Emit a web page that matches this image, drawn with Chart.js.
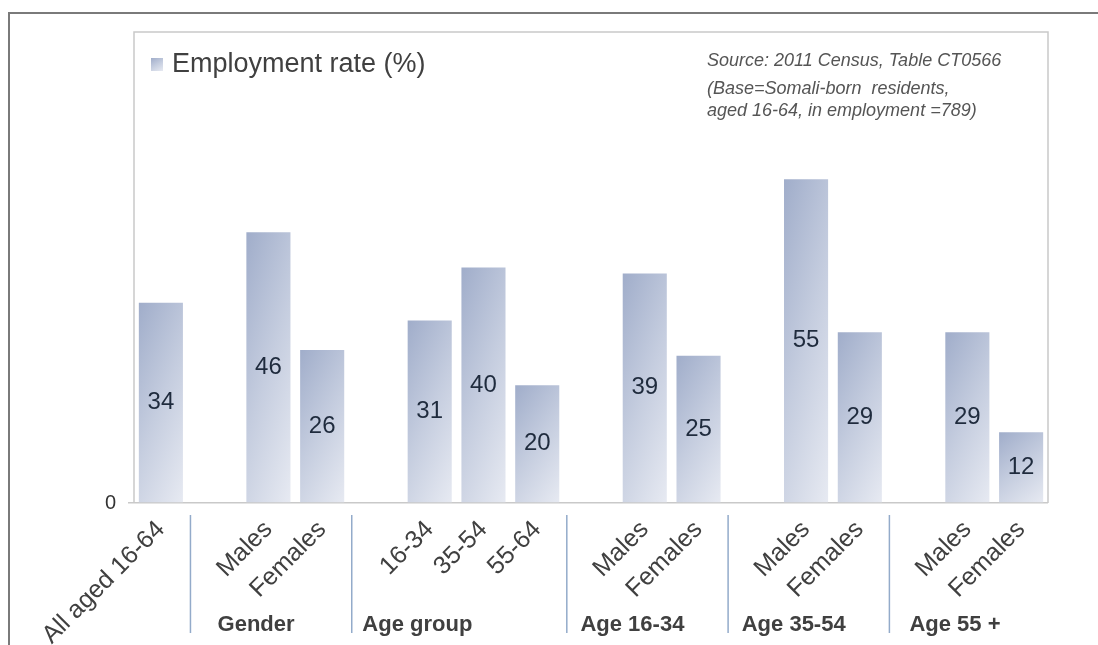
<!DOCTYPE html>
<html>
<head>
<meta charset="utf-8">
<script src="https://cdn.jsdelivr.net/npm/chart.js@4"></script>
<style>
    body { margin: 0; background: #ffffff; }
    #chartBox { width: 1098px; height: 645px; }
</style>
</head>
<body>
<div id="chartBox"><canvas id="employmentChart" width="1098" height="645"></canvas></div>
<script>
// empty labels are the gaps between groups
const categories = ["All aged 16-64", "", "Males", "Females", "", "16-34", "35-54", "55-64", "", "Males", "Females", "", "Males", "Females", "", "Males", "Females"];
const employmentRate = [34, null, 46, 26, null, 31, 40, 20, null, 39, 25, null, 55, 29, null, 29, 12];
const groupNames = ["Gender", "Age group", "Age 16-34", "Age 35-54", "Age 55 +"];
const groupGapIndex = [1, 4, 8, 11, 14];
const yTicks = [0];
const seriesName = "Employment rate (%)";
const sourceLines = ["Source: 2011 Census, Table CT0566", "(Base=Somali-born  residents,", "aged 16-64, in employment =789)"];

const FONT = "'Liberation Sans', Arial, sans-serif";
const DARK = '#404040';

//Gradient running from darker top-left to light bottom-right of a box
function boxGradient(ctx, x0, y0, w, h) {
    let a = 0.35 / w;
    let b = 0.65 / h;
    let n = a * a + b * b;
    let g = ctx.createLinearGradient(x0, y0, x0 + a / n, y0 + b / n);
    g.addColorStop(0, '#a0adca');
    g.addColorStop(0.5, '#c5cddf');
    g.addColorStop(1, '#e7eaf2');
    return g;
}

function barColor(context) {
    let chart = context.chart;
    let xs = chart.scales.x;
    let ys = chart.scales.y;
    if (!xs || !ys || context.raw == null)
        return '#bcc5da';
    let slot = xs.width / categories.length;
    let w = slot * 0.82;
    let cx = xs.getPixelForValue(context.dataIndex);
    let top = ys.getPixelForValue(context.raw);
    let base = ys.getPixelForValue(0);
    if (![slot, cx, top, base].every(Number.isFinite) || w <= 0 || base - top <= 0)
        return '#bcc5da';
    return boxGradient(chart.ctx, cx - w / 2, top, w, base - top);
}

//Frame, plot box, legend and source note
const decorations = {
    id: 'decorations',
    beforeDraw(chart) {
        let ctx = chart.ctx;
        ctx.save();
        ctx.fillStyle = '#ffffff';
        ctx.fillRect(0, 0, chart.width, chart.height);
        ctx.strokeStyle = '#7a7a7a';
        ctx.lineWidth = 2;
        ctx.beginPath();
        ctx.moveTo(9, chart.height);
        ctx.lineTo(9, 13);
        ctx.lineTo(chart.width, 13);
        ctx.stroke();
        ctx.restore();
    },
    afterDraw(chart) {
        let ctx = chart.ctx;
        let area = chart.chartArea;
        ctx.save();
        ctx.strokeStyle = '#c9c9c9';
        ctx.lineWidth = 1.5;
        ctx.beginPath();
        ctx.moveTo(area.left, area.bottom);
        ctx.lineTo(area.left, area.top);
        ctx.lineTo(area.right, area.top);
        ctx.lineTo(area.right, area.bottom);
        ctx.stroke();

        // legend
        ctx.fillStyle = boxGradient(ctx, area.left + 17, area.top + 26, 12, 13);
        ctx.fillRect(area.left + 17, area.top + 26, 12, 13);
        ctx.fillStyle = DARK;
        ctx.font = '27px ' + FONT;
        ctx.textBaseline = 'middle';
        ctx.fillText(seriesName, area.left + 38, area.top + 33);

        // source note
        ctx.fillStyle = '#555555';
        ctx.font = 'italic 18px ' + FONT;
        ctx.textBaseline = 'alphabetic';
        let yPos = [66, 94, 116];
        sourceLines.forEach((line, i) => ctx.fillText(line, 707, yPos[i]));

        // group separators and names under the axis
        let xs = chart.scales.x;
        let slot = xs.width / categories.length;
        ctx.strokeStyle = '#93abca';
        ctx.lineWidth = 1.5;
        ctx.fillStyle = DARK;
        ctx.font = 'bold 22px ' + FONT;
        ctx.textAlign = 'center';
        groupGapIndex.forEach((idx, i) => {
            let sx = xs.getPixelForValue(idx) - 0.45 * slot;
            ctx.beginPath();
            ctx.moveTo(sx, area.bottom + 12);
            ctx.lineTo(sx, area.bottom + 130);
            ctx.stroke();
            ctx.fillText(groupNames[i], sx + 1.22 * slot, area.bottom + 128);
        });
        ctx.restore();
    }
};

//Value written in the middle of each bar
const barValues = {
    id: 'barValues',
    afterDatasetsDraw(chart) {
        let ctx = chart.ctx;
        let meta = chart.getDatasetMeta(0);
        ctx.save();
        ctx.fillStyle = '#1f2b3d';
        ctx.font = '24px ' + FONT;
        ctx.textAlign = 'center';
        ctx.textBaseline = 'middle';
        meta.data.forEach((bar, i) => {
            let v = employmentRate[i];
            if (v == null)
                return;
            ctx.fillText(String(v), bar.x, (bar.y + bar.base) / 2);
        });
        ctx.restore();
    }
};

new Chart("employmentChart", {
    type: 'bar',
    data: {
        labels: categories,
        datasets: [{
            label: seriesName,
            data: employmentRate,
            backgroundColor: barColor,
            barPercentage: 0.82,
            categoryPercentage: 1.0
        }]
    },
    options: {
        responsive: false,
        animation: false,
        layout: { padding: { top: 32, right: 50, left: 0, bottom: 0 } },
        plugins: {
            legend: { display: false },
            tooltip: { enabled: false }
        },
        scales: {
            x: {
                grid: { display: false },
                border: { display: false },
                ticks: {
                    autoSkip: false,
                    minRotation: 45,
                    maxRotation: 45,
                    padding: 4,
                    color: DARK,
                    font: { family: FONT, size: 25 }
                },
                afterFit: s => { s.height = 142; }
            },
            y: {
                min: 0,
                max: 80,
                afterBuildTicks: s => { s.ticks = yTicks.map(v => ({ value: v })); },
                grid: { color: '#c9c9c9', lineWidth: 1.5, tickLength: 6 },
                border: { display: false },
                ticks: {
                    padding: 12,
                    color: '#333333',
                    font: { family: FONT, size: 20 }
                },
                afterFit: s => { s.width = 134; }
            }
        }
    },
    plugins: [decorations, barValues]
});
</script>
</body>
</html>
